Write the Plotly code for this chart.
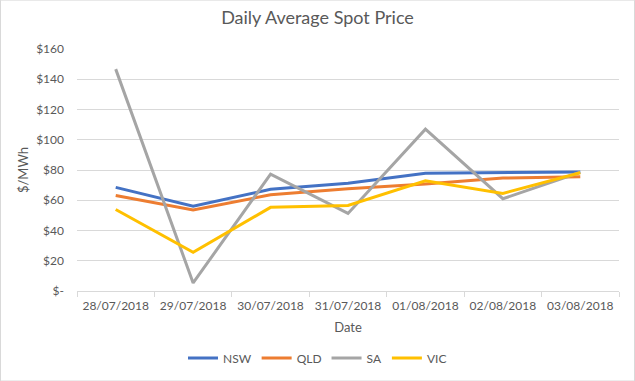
import plotly.graph_objects as go

dates = ["28/07/2018", "29/07/2018", "30/07/2018", "31/07/2018", "01/08/2018", "02/08/2018", "03/08/2018"]
nsw = [68.5, 56.1, 67.2, 71.2, 77.8, 78.2, 78.7]
qld = [63.2, 53.5, 63.6, 67.6, 70.7, 74.7, 75.5]
sa = [146.7, 5.3, 77.3, 51.3, 107.0, 61.0, 78.5]
vic = [53.9, 25.6, 55.3, 56.6, 72.9, 64.5, 78.2]

series_names = ["NSW", "QLD", "SA", "VIC"]
series_values = [nsw, qld, sa, vic]
colors = ["#4472C4", "#ED7D31", "#A5A5A5", "#FFC000"]

y_tickvals = [0, 20, 40, 60, 80, 100, 120, 140, 160]
y_ticktext = ["$-", "$20", "$40", "$60", "$80", "$100", "$120", "$140", "$160"]

font_family = "Lato, 'Liberation Sans', Arial, sans-serif"
text_color = "#595959"

fig = go.Figure()
for name, vals, c in zip(series_names, series_values, colors):
    fig.add_trace(go.Scatter(x=dates, y=vals, name=name, mode="lines",
                             line=dict(color=c, width=3)))

fig.update_layout(
    width=635, height=381,
    margin=dict(l=77, r=16, t=49, b=90, autoexpand=False),
    paper_bgcolor="white", plot_bgcolor="white",
    font=dict(family=font_family, size=12, color=text_color),
    title=dict(text="Daily Average Spot Price", x=0.5, xanchor="center",
               y=1 - 18 / 381, yanchor="middle",
               font=dict(size=18, color=text_color, family=font_family)),
    showlegend=True,
    legend=dict(orientation="h", x=0.5, xanchor="center", xref="container",
                y=1 - 358 / 381, yanchor="middle", yref="container",
                font=dict(size=12, color=text_color),
                itemwidth=30, tracegroupgap=0),
)
fig.update_xaxes(
    type="category", range=[-0.5, len(dates) - 0.5],
    showgrid=False, showline=True, linecolor="#D9D9D9", linewidth=1,
    ticks="outside", tickson="boundaries", ticklen=5, tickcolor="#D9D9D9",
    ticklabelstandoff=4,
    title=dict(text="Date", font=dict(size=13, color=text_color), standoff=10),
    tickfont=dict(size=12, color=text_color), automargin=False,
)
fig.update_yaxes(
    range=[0, 160], tickvals=y_tickvals, ticktext=y_ticktext,
    showgrid=True, gridcolor="#D9D9D9", gridwidth=1, zeroline=False,
    showline=False, ticks="", ticklabelstandoff=12,
    title=dict(text="$/MWh", font=dict(size=13, color=text_color), standoff=4),
    tickfont=dict(size=12, color=text_color), automargin=False,
)
fig.add_shape(type="rect", xref="paper", yref="paper",
              x0=(0.5 - 77) / 542, x1=(634.5 - 77) / 542,
              y0=(290.7 - 380.5) / 241.4, y1=(290.7 - 0.5) / 241.4,
              line=dict(color="#D9D9D9", width=1), fillcolor="rgba(0,0,0,0)", layer="below")

fig.write_html("out.html", config={"displayModeBar": False},
               post_script="document.body.style.margin='0';document.body.style.padding='0';")
